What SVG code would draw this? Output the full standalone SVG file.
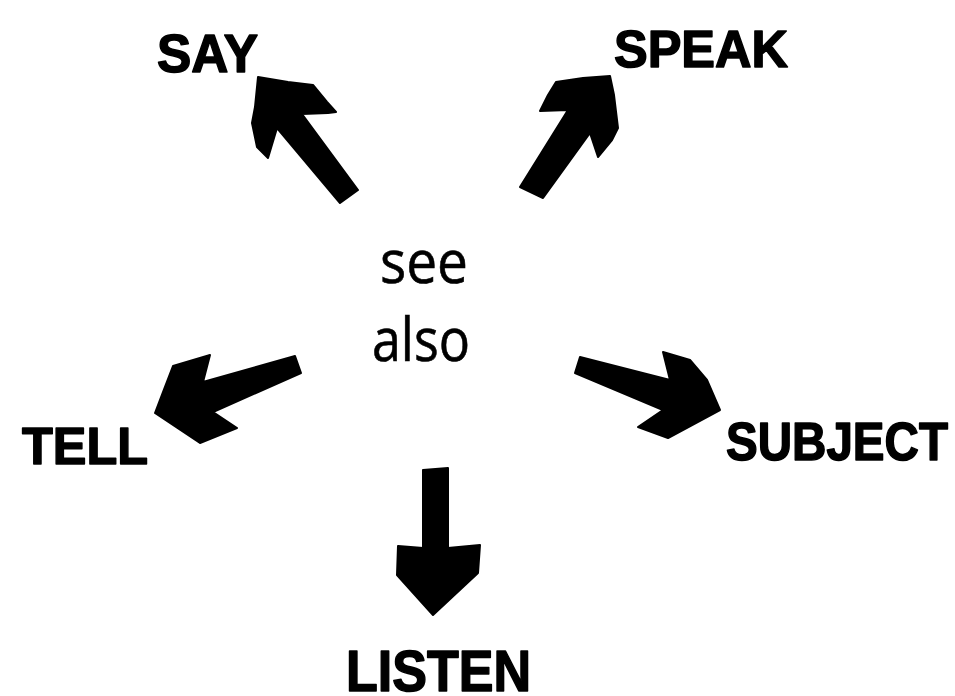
<svg xmlns="http://www.w3.org/2000/svg" width="955" height="696" viewBox="0 0 955 696">
<style>
.lbl{font-family:"Liberation Sans",Arial,sans-serif;font-weight:bold;fill:#000;stroke:#000;stroke-width:1.5;stroke-linejoin:round}
.ctr{font-family:"Open Sans","Noto Sans",sans-serif;fill:#000;text-anchor:middle;stroke:#000;stroke-width:0.6}
.arr{fill:#000;stroke:#000;stroke-width:2;stroke-linejoin:round}
</style>
<rect width="955" height="696" fill="#fff"/>
<g id="connectors">
<polygon class="arr" points="258,77 288,82 313,85 327,102 336,112 328,113 302,114 358,190 340,203 277,128 268,158 257,147 252,123 255,107"/>
<polygon class="arr" points="610,76 614,95 618,128 612,140 598,157 590,133 543,198 520,187 568,110 540,111 548,95 556,82 583,78"/>
<polygon class="arr" points="295,356 301,373 213,412 237,428 200,443 155,413 163,392 173,366 210,355 203,382"/>
<polygon class="arr" points="580,357 670,380 663,352 690,360 707,380 720,410 668,438 638,427 663,410 575,373"/>
<polygon class="arr" points="423,470 448,468 448,548 480,545 478,573 433,615 397,575 398,546 423,548"/>
</g>
<g id="center">
<text class="ctr" x="424" y="283" font-size="60" textLength="88" lengthAdjust="spacingAndGlyphs">see</text>
<text class="ctr" x="421" y="361" font-size="60" textLength="98" lengthAdjust="spacingAndGlyphs">also</text>
</g>
<g id="say"><text class="lbl" x="157" y="72" font-size="54" textLength="101" lengthAdjust="spacingAndGlyphs">SAY</text></g>
<g id="speak"><text class="lbl" x="614" y="67" font-size="52" textLength="174" lengthAdjust="spacingAndGlyphs">SPEAK</text></g>
<g id="tell"><text class="lbl" x="22" y="464" font-size="52" textLength="126" lengthAdjust="spacingAndGlyphs">TELL</text></g>
<g id="subject"><text class="lbl" x="726" y="460" font-size="53" textLength="222" lengthAdjust="spacingAndGlyphs">SUBJECT</text></g>
<g id="listen"><text class="lbl" x="346" y="691" font-size="57" textLength="185" lengthAdjust="spacingAndGlyphs">LISTEN</text></g>
</svg>
